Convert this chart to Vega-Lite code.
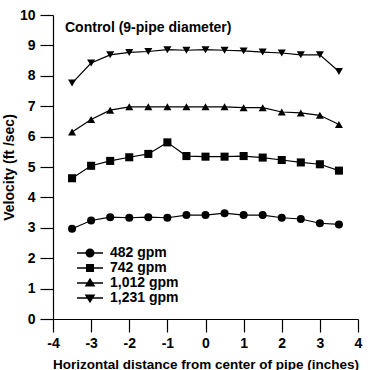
{
  "$schema": "https://vega.github.io/schema/vega-lite/v6.json",
  "width": 305,
  "height": 304,
  "autosize": "none",
  "padding": {"left": 53, "top": 15, "right": 15, "bottom": 51},
  "background": "white",
  "config": {
    "view": {"stroke": null},
    "font": "Liberation Sans",
    "axis": {
      "grid": false,
      "domainColor": "black",
      "domainWidth": 1.2,
      "tickColor": "black",
      "tickWidth": 1.2,
      "tickSize": 13,
      "labelFont": "Liberation Sans",
      "labelFontSize": 14,
      "labelFontWeight": "bold",
      "labelColor": "black",
      "labelFlush": false,
      "titleFont": "Liberation Sans",
      "titleFontSize": 13.5,
      "titleFontWeight": "bold",
      "titleColor": "black"
    }
  },
  "datasets": {
    "series": [
      {"x": -3.5, "v": 2.97, "s": "482 gpm"}, {"x": -3, "v": 3.24, "s": "482 gpm"}, {"x": -2.5, "v": 3.35, "s": "482 gpm"}, {"x": -2, "v": 3.33, "s": "482 gpm"}, {"x": -1.5, "v": 3.35, "s": "482 gpm"}, {"x": -1, "v": 3.33, "s": "482 gpm"}, {"x": -0.5, "v": 3.42, "s": "482 gpm"}, {"x": 0, "v": 3.42, "s": "482 gpm"}, {"x": 0.5, "v": 3.48, "s": "482 gpm"}, {"x": 1, "v": 3.42, "s": "482 gpm"}, {"x": 1.5, "v": 3.42, "s": "482 gpm"}, {"x": 2, "v": 3.33, "s": "482 gpm"}, {"x": 2.5, "v": 3.29, "s": "482 gpm"}, {"x": 3, "v": 3.15, "s": "482 gpm"}, {"x": 3.5, "v": 3.11, "s": "482 gpm"},
      {"x": -3.5, "v": 4.63, "s": "742 gpm"}, {"x": -3, "v": 5.04, "s": "742 gpm"}, {"x": -2.5, "v": 5.2, "s": "742 gpm"}, {"x": -2, "v": 5.32, "s": "742 gpm"}, {"x": -1.5, "v": 5.43, "s": "742 gpm"}, {"x": -1, "v": 5.81, "s": "742 gpm"}, {"x": -0.5, "v": 5.36, "s": "742 gpm"}, {"x": 0, "v": 5.34, "s": "742 gpm"}, {"x": 0.5, "v": 5.34, "s": "742 gpm"}, {"x": 1, "v": 5.36, "s": "742 gpm"}, {"x": 1.5, "v": 5.31, "s": "742 gpm"}, {"x": 2, "v": 5.23, "s": "742 gpm"}, {"x": 2.5, "v": 5.15, "s": "742 gpm"}, {"x": 3, "v": 5.09, "s": "742 gpm"}, {"x": 3.5, "v": 4.88, "s": "742 gpm"},
      {"x": -3.5, "v": 6.15, "s": "1,012 gpm"}, {"x": -3, "v": 6.56, "s": "1,012 gpm"}, {"x": -2.5, "v": 6.87, "s": "1,012 gpm"}, {"x": -2, "v": 6.98, "s": "1,012 gpm"}, {"x": -1.5, "v": 6.98, "s": "1,012 gpm"}, {"x": -1, "v": 6.98, "s": "1,012 gpm"}, {"x": -0.5, "v": 6.98, "s": "1,012 gpm"}, {"x": 0, "v": 6.98, "s": "1,012 gpm"}, {"x": 0.5, "v": 6.98, "s": "1,012 gpm"}, {"x": 1, "v": 6.95, "s": "1,012 gpm"}, {"x": 1.5, "v": 6.95, "s": "1,012 gpm"}, {"x": 2, "v": 6.81, "s": "1,012 gpm"}, {"x": 2.5, "v": 6.78, "s": "1,012 gpm"}, {"x": 3, "v": 6.7, "s": "1,012 gpm"}, {"x": 3.5, "v": 6.4, "s": "1,012 gpm"},
      {"x": -3.5, "v": 7.76, "s": "1,231 gpm"}, {"x": -3, "v": 8.42, "s": "1,231 gpm"}, {"x": -2.5, "v": 8.69, "s": "1,231 gpm"}, {"x": -2, "v": 8.77, "s": "1,231 gpm"}, {"x": -1.5, "v": 8.8, "s": "1,231 gpm"}, {"x": -1, "v": 8.86, "s": "1,231 gpm"}, {"x": -0.5, "v": 8.84, "s": "1,231 gpm"}, {"x": 0, "v": 8.86, "s": "1,231 gpm"}, {"x": 0.5, "v": 8.84, "s": "1,231 gpm"}, {"x": 1, "v": 8.82, "s": "1,231 gpm"}, {"x": 1.5, "v": 8.78, "s": "1,231 gpm"}, {"x": 2, "v": 8.75, "s": "1,231 gpm"}, {"x": 2.5, "v": 8.69, "s": "1,231 gpm"}, {"x": 3, "v": 8.69, "s": "1,231 gpm"}, {"x": 3.5, "v": 8.14, "s": "1,231 gpm"}
    ],
    "note": [{"label": "Control (9-pipe diameter)", "x": -3.685, "v": 9.44}]
  },
  "encoding": {
    "x": {
      "field": "x", "type": "quantitative",
      "scale": {"domain": [-4, 4], "nice": false, "zero": false},
      "axis": {"values": [-4, -3, -2, -1, 0, 1, 2, 3, 4], "labelExpr": "'' + datum.value", "labelPadding": 4, "titlePadding": 7,
               "title": "Horizontal distance from center of pipe (inches)"}
    },
    "y": {
      "field": "v", "type": "quantitative",
      "scale": {"domain": [0, 10], "nice": false, "zero": false},
      "axis": {"values": [0, 1, 2, 3, 4, 5, 6, 7, 8, 9, 10], "labelExpr": "'' + datum.value", "labelPadding": 5, "titlePadding": 3,
               "titleFontSize": 14, "title": "Velocity (ft /sec)"}
    }
  },
  "layer": [
    {
      "data": {"name": "series"},
      "mark": {"type": "line", "color": "black", "strokeWidth": 1.2},
      "encoding": {"detail": {"field": "s"}}
    },
    {
      "data": {"name": "series"},
      "mark": {"type": "point", "filled": true, "color": "black", "opacity": 1, "size": 65},
      "encoding": {
        "shape": {
          "field": "s", "type": "nominal",
          "scale": {"domain": ["482 gpm", "742 gpm", "1,012 gpm", "1,231 gpm"], "range": ["circle", "square", "triangle-up", "triangle-down"]},
          "legend": null
        }
      }
    },
    {
      "data": {"name": "series"},
      "mark": {"type": "point", "filled": true, "color": "black", "stroke": "black", "strokeWidth": 1.3, "opacity": 0},
      "encoding": {
        "shape": {
          "field": "s", "type": "nominal",
          "scale": {"domain": ["482 gpm", "742 gpm", "1,012 gpm", "1,231 gpm"],
                    "range": [
                      "M-2.6,0H2.6M-0.75,0A0.75,0.75 0 1,1 0.75,0A0.75,0.75 0 1,1 -0.75,0Z",
                      "M-2.6,0H2.6M-0.65,-0.65H0.65V0.65H-0.65Z",
                      "M-2.6,0H2.6M0,-0.75L0.8,0.55H-0.8Z",
                      "M-2.6,0H2.6M0,0.75L0.8,-0.55H-0.8Z"
                    ]},
          "legend": {
            "title": null,
            "orient": "none",
            "legendX": 30,
            "legendY": 231,
            "padding": 0,
            "symbolSize": 100,
            "labelOffset": 13,
            "labelFont": "Liberation Sans",
            "labelFontSize": 14,
            "labelFontWeight": "bold",
            "labelColor": "black",
            "rowPadding": 1,
            "encode": {
              "symbols": {
                "update": {
                  "fill": {"value": "black"},
                  "stroke": {"value": "black"},
                  "strokeWidth": {"value": 1.3},
                  "opacity": {"value": 1}
                }
              }
            }
          }
        }
      }
    },
    {
      "data": {"name": "note"},
      "mark": {"type": "text", "align": "left", "baseline": "alphabetic", "font": "Liberation Sans", "fontSize": 14, "fontWeight": "bold", "color": "black"},
      "encoding": {
        "text": {"field": "label", "type": "nominal"}
      }
    }
  ],
  "resolve": {"scale": {"shape": "independent"}, "legend": {"shape": "independent"}}
}
